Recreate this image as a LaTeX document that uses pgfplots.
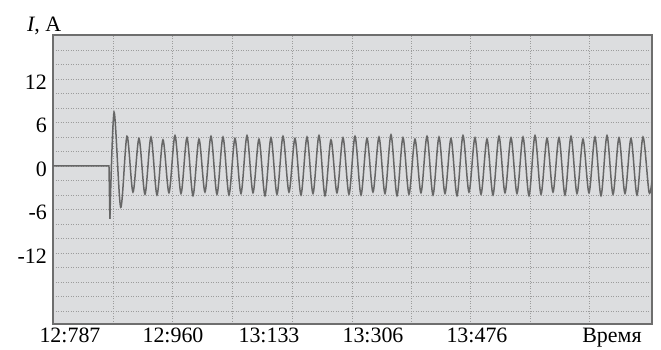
\documentclass[border=0pt]{standalone}
\usepackage{pgfplots}
\pgfplotsset{compat=1.18}
\usepackage{fontspec}
\setmainfont{Liberation Serif}
\definecolor{bgc}{HTML}{DCDDDF}
\definecolor{gridc}{HTML}{9C9C9C}
\definecolor{framec}{HTML}{6E6E6E}
\definecolor{wavec}{HTML}{666666}
\begin{document}
\begin{tikzpicture}
\begin{axis}[
  at={(0,0)}, anchor=south west,
  scale only axis, width=599bp, height=289bp,
  xmin=12758.7, xmax=13757, ymin=-21.8, ymax=18.07,
  axis background/.style={fill=bgc},
  axis line style={draw=framec, line width=1.5bp},
  xtick={12787,12958.7,13118.7,13292,13465.3,13690.3},
  xticklabels={12:787,12:960,13:133,13:306,13:476,Время},
  ytick={-12,-6,0,6,12},
  yticklabels={-12,-6,0,6,12},
  minor xtick={12859,12958,13058,13157,13257,13356,13455,13554,13653},
  minor ytick={-20,-18,...,16},
  major tick length=0pt, minor tick length=0pt,
  xmajorgrids=false, xminorgrids=true,
  ymajorgrids=true, yminorgrids=true,
  grid style={draw=gridc, line width=0.8bp, dash pattern=on 1bp off 1.5bp},
  major grid style={draw=gridc, line width=0.8bp, dash pattern=on 1bp off 1.5bp},
  minor grid style={draw=gridc, line width=0.8bp, dash pattern=on 1bp off 1.5bp},
  tick label style={font=\fontsize{22}{26}\selectfont, text=black},
  every x tick label/.append style={inner sep=0.5bp, yshift=-3bp},
  yticklabel style={anchor=east, inner sep=0pt, xshift=-6bp, yshift=-3bp},
]
\addplot[wavec, line width=1.5bp, sharp plot] coordinates {
(12758.7,0) (12852,0) (12853.5,-7.3)
};
\addplot[wavec, line width=1.5bp, smooth] coordinates {
(12853.5,-7.3) (12860.5,7.4) (12871.5,-5.7)
(12882,4.1) (12892,-3.6)
(12902,3.8) (12912,-3.9)
(12922,4.0) (12932,-4.0)
(12942,3.6) (12952,-3.7)
(12962,4.2) (12972,-3.8)
(12982,3.9) (12992,-4.1)
(13002,3.7) (13012,-3.6)
(13022,4.1) (13032,-3.9)
(13042,4.0) (13052,-4.0)
(13062,3.8) (13072,-3.8)
(13082,4.2) (13092,-3.7)
(13102,3.7) (13112,-4.1)
(13122,3.9) (13132,-3.9)
(13142,4.1) (13152,-3.6)
(13162,3.8) (13172,-4.0)
(13182,4.0) (13192,-3.8)
(13202,4.2) (13212,-4.1)
(13222,3.6) (13232,-3.7)
(13242,3.9) (13252,-3.9)
(13262,4.1) (13272,-4.0)
(13282,3.8) (13292,-3.6)
(13302,4.0) (13312,-3.8)
(13322,4.3) (13332,-4.1)
(13342,3.9) (13352,-3.9)
(13362,3.7) (13372,-3.7)
(13382,4.1) (13392,-4.0)
(13402,4.0) (13412,-3.8)
(13422,3.8) (13432,-4.1)
(13442,4.2) (13452,-3.6)
(13462,3.9) (13472,-3.9)
(13482,3.7) (13492,-4.0)
(13502,4.1) (13512,-3.7)
(13522,3.9) (13532,-3.8)
(13542,4.0) (13552,-4.1)
(13562,4.2) (13572,-3.9)
(13582,3.8) (13592,-3.6)
(13602,3.9) (13612,-4.0)
(13622,4.1) (13632,-3.8)
(13642,3.7) (13652,-3.7)
(13662,4.0) (13672,-4.1)
(13682,4.2) (13692,-3.9)
(13702,3.9) (13712,-3.8)
(13722,3.8) (13732,-4.0)
(13742,4.0) (13752,-3.6)
(13757,-2.0)
};
\end{axis}
\node[anchor=base west, inner sep=0pt, font=\fontsize{22}{26}\selectfont] at (-26bp,292bp) {\textit{I}, A};
\pgfresetboundingbox
\path[use as bounding box] (-53bp,-26bp) rectangle (608bp,324bp);
\end{tikzpicture}
\end{document}
